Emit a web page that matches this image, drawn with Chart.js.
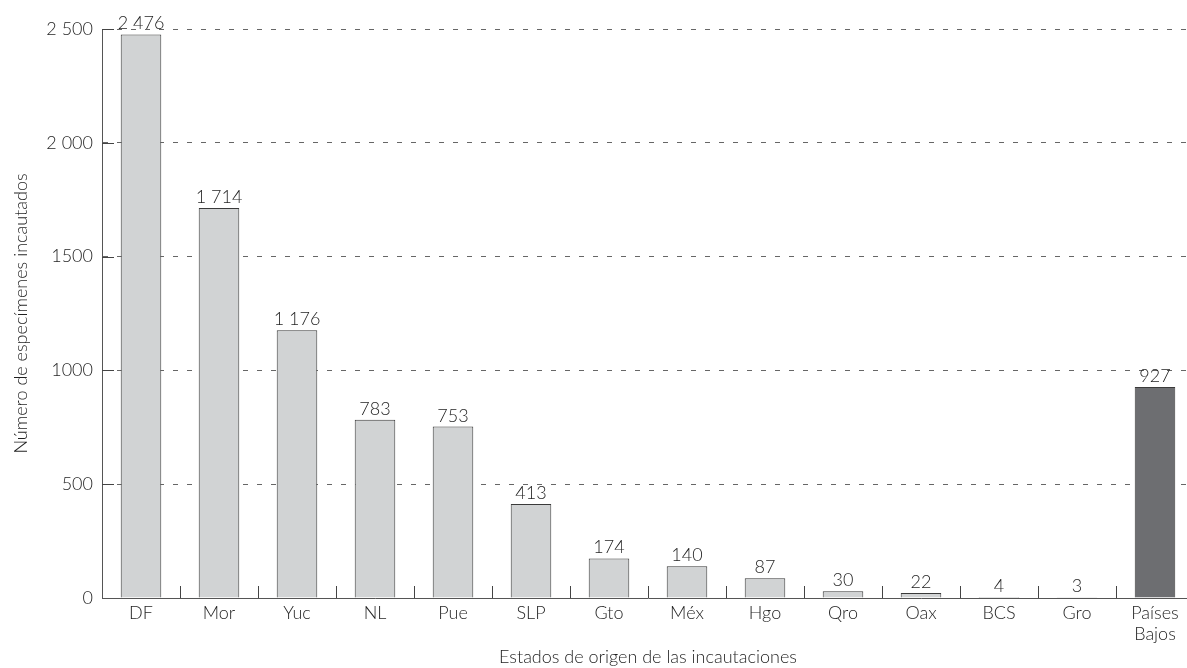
<!DOCTYPE html>
<html>
<head>
<meta charset="utf-8">
<script src="https://cdn.jsdelivr.net/npm/chart.js@4.4.0/dist/chart.umd.min.js"></script>
<style>
  html, body { margin: 0; padding: 0; overflow: hidden; background: #fff; }
  #wrap { width: 1200px; height: 668px; position: relative; }
</style>
</head>
<body>
<div id="wrap"><canvas id="chart"></canvas></div>
<script>
const estados = ["DF", "Mor", "Yuc", "NL", "Pue", "SLP", "Gto", "Méx", "Hgo", "Qro", "Oax", "BCS", "Gro", ["Países", "Bajos"]];
const especimenes = [2476, 1714, 1176, 783, 753, 413, 174, 140, 87, 30, 22, 4, 3, 927];
const etiquetas = ["2 476", "1 714", "1 176", "783", "753", "413", "174", "140", "87", "30", "22", "4", "3", "927"];
const yTicks = {0: "0", 500: "500", 1000: "1000", 1500: "1500", 2000: "2 000", 2500: "2 500"};

const gris = "#d1d3d4";
const grisOscuro = "#6d6e71";
const texto = "#1f1f1f";
const fuente = "Lato";
const peso = "300";

const barColours = especimenes.map((v, i) => i === especimenes.length - 1 ? grisOscuro : gris);

// value labels above bars + small inner tick marks on both axes
const extras = {
    id: 'extras',
    afterDatasetsDraw(chart) {
        const ctx = chart.ctx;
        const meta = chart.getDatasetMeta(0);
        ctx.save();
        ctx.fillStyle = texto;
        ctx.font = peso + " 18px " + fuente;
        ctx.textAlign = 'center';
        ctx.textBaseline = 'alphabetic';
        meta.data.forEach((bar, i) => {
            ctx.fillText(etiquetas[i], bar.x, bar.y - 5);
        });

        const x = chart.scales.x, y = chart.scales.y;
        const area = chart.chartArea;
        ctx.strokeStyle = "#444";
        ctx.lineWidth = 1;
        ctx.beginPath();
        for (let i = 1; i < estados.length; i++) {
            const px = Math.round((x.getPixelForValue(i - 1) + x.getPixelForValue(i)) / 2) + 0.5;
            ctx.moveTo(px, area.bottom);
            ctx.lineTo(px, area.bottom - 12);
        }
        [500, 1000, 1500, 2000, 2500].forEach(v => {
            const py = Math.round(y.getPixelForValue(v)) + 0.5;
            ctx.moveTo(area.left, py);
            ctx.lineTo(area.left + 12, py);
        });
        ctx.stroke();
        ctx.restore();
    }
};

new Chart(
    document.getElementById('chart'),
    {
        type: 'bar',
        data: {
            labels: estados,
            datasets: [
                {
                    data: especimenes,
                    backgroundColor: barColours,
                    borderColor: "#3a3a3a",
                    borderWidth: 1,
                    barPercentage: 0.52,
                    categoryPercentage: 1,
                }
            ]
        },
        options: {
            responsive: true,
            maintainAspectRatio: false,
            animation: false,
            layout: { padding: { top: 29, right: 6, left: 0, bottom: 0 } },
            plugins: {
                legend: { display: false },
                tooltip: { enabled: false },
            },
            scales: {
                x: {
                    grid: { display: false, drawTicks: false },
                    border: { display: true, color: "#555", width: 1 },
                    ticks: {
                        color: texto,
                        font: { family: fuente, size: 18, weight: peso },
                        padding: 4,
                        maxRotation: 0,
                        autoSkip: false,
                    },
                    title: {
                        display: true,
                        text: "Estados de origen de las incautaciones",
                        color: texto,
                        font: { family: fuente, size: 18, weight: peso },
                        padding: { top: 0, bottom: 0 },
                    },
                    afterFit(scale) { scale.height = 70; },
                },
                y: {
                    min: 0,
                    max: 2500,
                    grid: {
                        drawTicks: false,
                        color: c => c.tick && c.tick.value === 0 ? 'transparent' : "#666",
                        lineWidth: 1,
                    },
                    border: { display: true, color: "#555", width: 1, dash: [5, 9] },
                    ticks: {
                        stepSize: 500,
                        color: texto,
                        font: { family: fuente, size: 18, weight: peso },
                        padding: 9,
                        callback: v => yTicks[v],
                    },
                    title: {
                        display: true,
                        text: "Número de especímenes incautados",
                        color: texto,
                        font: { family: fuente, size: 18, weight: peso },
                        padding: { top: 10, bottom: 0 },
                    },
                    afterFit(scale) { scale.width = 102; },
                }
            }
        },
        plugins: [extras]
    }
);
</script>
</body>
</html>
